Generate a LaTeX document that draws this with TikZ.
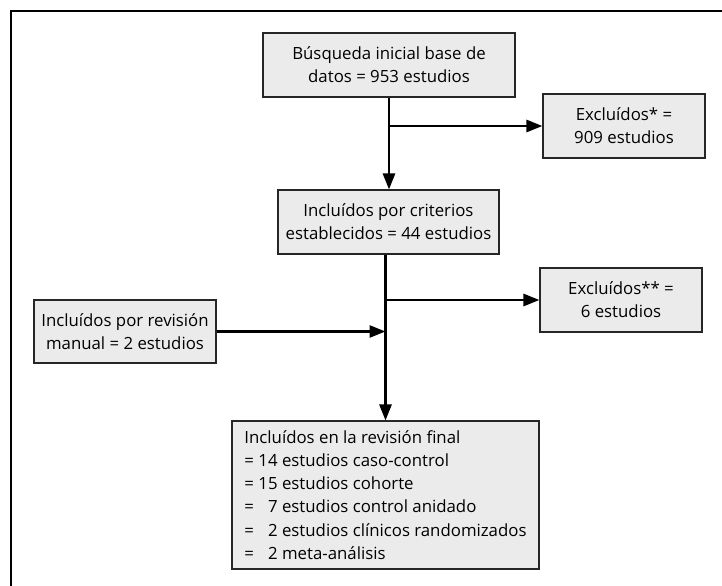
\documentclass[tikz,border=0pt]{standalone}
\usepackage{fontspec}
\setmainfont{Open Sans}
\usepackage{tikz}
\usetikzlibrary{arrows.meta,positioning}

\begin{document}
\begin{tikzpicture}[
  x=0.75pt, y=-0.75pt,
  box/.style={draw=black!85, fill=black!8, line width=0.8pt, align=center,
    inner sep=0pt, font=\fontsize{12.6}{17.4}\selectfont},
  flow/.style={draw, -{Triangle[length=12pt, width=9pt]}, line width=2pt}
]
\useasboundingbox (0,0) rectangle (722,586);
\draw[line width=1.5pt] (11,586) -- (11,10.5) -- (722,10.5);

\node[box, minimum width=189pt, minimum height=48pt] (busq) at (389,65)
  {Búsqueda inicial base de\\datos = 953 estudios};
\node[box, minimum width=121.5pt, minimum height=48pt] (excl1) at (624,126)
  {Excluídos* =\\909 estudios};
\node[box, minimum width=165.75pt, minimum height=48pt] (crit) at (388.5,222)
  {Incluídos por criterios\\establecidos = 44 estudios};
\node[box, minimum width=121.5pt, minimum height=48pt] (excl2) at (621,300)
  {Excluídos** =\\6 estudios};
\node[box, minimum width=136.5pt, minimum height=47.25pt] (manual) at (125,331.5)
  {Incluídos por revisión\\manual = 2 estudios};
\node[box, align=left, minimum width=230.25pt, minimum height=111pt] (final) at (385.5,495)
  {Incluídos en la revisión final\\
   = 14 estudios caso-control\\
   = 15 estudios cohorte\\
   = \phantom{1}7 estudios control anidado\\
   = \phantom{1}2 estudios clínicos randomizados\\
   = \phantom{1}2 meta-análisis};

% junctions on the trunk
\coordinate (j1) at (busq.south |- excl1.west);
\coordinate (j2) at (final.north |- excl2.west);
\coordinate (j3) at (final.north |- manual.east);

\draw[flow] (busq.south) -- (busq.south |- crit.north);
\draw[flow] (j1) -- (excl1.west);
\draw[flow] (final.north |- crit.south) -- (final.north);
\draw[flow] (j2) -- (excl2.west);
\draw[flow] (manual.east) -- (j3);

\end{tikzpicture}
\end{document}
